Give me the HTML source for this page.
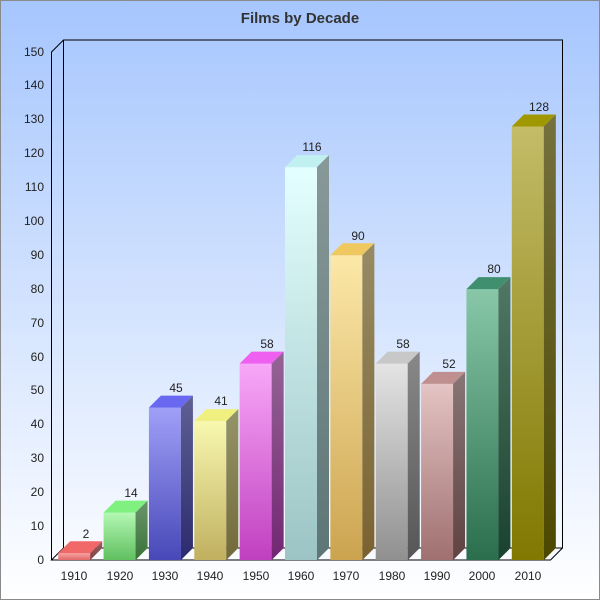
<!DOCTYPE html>
<html><head><meta charset="utf-8"><style>
body{margin:0;}
svg{display:block;font-family:"Liberation Sans",sans-serif;}
</style></head><body>
<svg id="s" width="600" height="600" xmlns="http://www.w3.org/2000/svg">
<defs>
<linearGradient id="bg" x1="0" y1="0" x2="0" y2="1"><stop offset="0" stop-color="#a6c6fe"/><stop offset="1" stop-color="#ffffff"/></linearGradient>
</defs>
<rect x="0.5" y="0.5" width="599" height="599" fill="url(#bg)" stroke="#8a8a8a"/>
<text x="300" y="23" text-anchor="middle" font-size="15" font-weight="bold" fill="#333">Films by Decade</text>
<g fill="none" stroke="#000" stroke-width="1">
<path d="M51.5 560V52L63.5 40H562.5V548L550.5 560H51.5L63.5 548H562.5M63.5 40V548"/>
</g>
<g id="bars"></g>
<g font-size="12" fill="#222" text-anchor="end">
<text x="44" y="564">0</text><text x="44" y="530">10</text><text x="44" y="496">20</text><text x="44" y="462">30</text><text x="44" y="428">40</text><text x="44" y="394">50</text><text x="44" y="361">60</text><text x="44" y="327">70</text><text x="44" y="293">80</text><text x="44" y="259">90</text><text x="44" y="225">100</text><text x="44" y="191">110</text><text x="44" y="157">120</text><text x="44" y="123">130</text><text x="44" y="89">140</text><text x="44" y="56">150</text>
</g>
<g font-size="12" fill="#222" text-anchor="middle">
<text x="74" y="580">1910</text><text x="120" y="580">1920</text><text x="165" y="580">1930</text><text x="210" y="580">1940</text><text x="256" y="580">1950</text><text x="301" y="580">1960</text><text x="346" y="580">1970</text><text x="392" y="580">1980</text><text x="437" y="580">1990</text><text x="482" y="580">2000</text><text x="528" y="580">2010</text>
</g>
<g font-size="12" fill="#222" text-anchor="middle">
<text x="86" y="538">2</text><text x="131" y="497">14</text><text x="176" y="392">45</text><text x="221" y="405">41</text><text x="267" y="348">58</text><text x="312" y="151">116</text><text x="358" y="240">90</text><text x="403" y="348">58</text><text x="449" y="368">52</text><text x="494" y="273">80</text><text x="539" y="111">128</text>
</g>
</svg>
<script>
var vals=[2,14,45,41,58,116,90,58,52,80,128];
var cols=[["#f8a0a0","#e06868","#f06868","#a04040"],["#b4f8b4","#60c060","#80f080","#3a903a"],["#a0a0f8","#4848b8","#6868f0","#303078"],["#f8f8b0","#c0b060","#f0f080","#808040"],["#f8a8f8","#c040c0","#f060f0","#802080"],["#e4ffff","#9cc4c4","#c0f0f0","#608888"],["#fce8a8","#cca450","#f0c860","#907030"],["#e4e4e4","#909090","#c8c8c8","#606060"],["#e4c4c4","#a07070","#c09090","#604040"],["#88c8a8","#2a6e4e","#409070","#1a4a34"],["#c4bc68","#807800","#a09800","#404000"]];
var g=document.getElementById("bars"),h="";
for(var i=0;i<11;i++){
 var c=74.2+45.36*i,x0=c-16,x1=c+16,t=560-vals[i]*3.3867,d=12,k=cols[i];
 h+='<linearGradient id="g'+i+'" x1="0" y1="0" x2="0" y2="1"><stop offset="0" stop-color="'+k[0]+'"/><stop offset="1" stop-color="'+k[1]+'"/></linearGradient>';
 h+='<rect x="'+x0+'" y="'+t+'" width="32" height="'+(560-t)+'" fill="url(#g'+i+')"/>';
 h+='<polygon points="'+x0+','+t+' '+(x0+d)+','+(t-d)+' '+(x1+d)+','+(t-d)+' '+x1+','+t+'" fill="'+k[2]+'"/>';
 var sp=x1+','+t+' '+(x1+d)+','+(t-d)+' '+(x1+d)+','+(560-d)+' '+x1+',560';
 h+='<polygon points="'+sp+'" fill="url(#g'+i+')"/>';
 h+='<polygon points="'+sp+'" fill="#000" fill-opacity="0.4"/>';
}
g.innerHTML=h;
</script>
</body></html>
